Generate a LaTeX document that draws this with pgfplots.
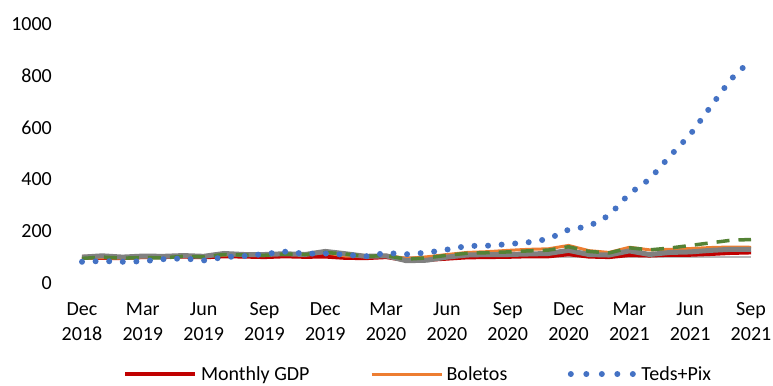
\documentclass[border=0pt]{standalone}
\usepackage{fontspec}
\setmainfont{Carlito}
\usepackage{pgfplots}
\pgfplotsset{compat=1.18}
\definecolor{gdpred}{RGB}{192,0,0}
\definecolor{bolorange}{RGB}{237,125,49}
\definecolor{tedblue}{RGB}{68,114,196}
\definecolor{grayser}{RGB}{128,128,128}
\definecolor{greenser}{RGB}{84,130,53}
\definecolor{basegray}{RGB}{185,185,185}
\pgfplotsset{dotlegend/.style={legend image code/.code={\path[draw=none] (0bp,0bp) -- (70bp,0bp);\draw[##1, dash pattern=on 0bp off 15.5bp] (3bp,0bp) -- (66bp,0bp);}}}
\begin{document}
\begin{tikzpicture}[x=1bp,y=1bp]
\begin{axis}[
  at={(82bp,-283bp)}, anchor=south west,
  scale only axis, width=669bp, height=259bp,
  xmin=0, xmax=33, ymin=0, ymax=1000,
  axis line style={draw=none}, major tick length=0pt,
  clip=false,
  xtick={0,3,...,33},
  xticklabels={{Dec\\2018},{Mar\\2019},{Jun\\2019},{Sep\\2019},{Dec\\2019},{Mar\\2020},{Jun\\2020},{Sep\\2020},{Dec\\2020},{Mar\\2021},{Jun\\2021},{Sep\\2021}},
  xticklabel style={align=center, anchor=north, inner sep=0pt, font=\fontsize{20bp}{25bp}\selectfont},
  xticklabel shift=19bp,
  ytick={0,200,...,1000},
  yticklabel style={anchor=east, inner sep=0pt, font=\fontsize{20bp}{24bp}\selectfont},
  yticklabel shift=30bp,
  /pgf/number format/assume math mode=true,
  /pgf/number format/1000 sep={},
  legend columns=-1,
  legend style={at={(0.0613,-0.3514)}, anchor=west, draw=none, fill=none,
    inner sep=0pt, outer sep=0pt, font=\fontsize{20bp}{24bp}\selectfont,
    nodes={inner sep=3.5bp},
    /tikz/every even column/.append style={column sep=57bp}},
  legend image code/.code={\draw[#1] (0bp,0bp) -- (70bp,0bp);},
]
\addplot[forget plot, basegray, line width=1.5bp] coordinates {(0,100) (33,100)};
\addplot[gdpred, line width=4.5bp, line join=round] coordinates {
(0,100) (1,98) (2,97) (3,101) (4,101) (5,103) (6,100) (7,104) (8,103) (9,101) (10,104) (11,102) (12,103) (13,98) (14,97) (15,101) (16,89) (17,90) (18,95) (19,100) (20,101) (21,102) (22,104) (23,104) (24,112) (25,103) (26,101) (27,109) (28,107) (29,110) (30,110) (31,113) (32,117) (33,119)};
\addlegendentry{Monthly GDP}
\addplot[bolorange, line width=3bp, line join=round] coordinates {
(0,98) (1,97) (2,96) (3,100) (4,100) (5,104) (6,102) (7,108) (8,109) (9,108) (10,112) (11,111) (12,117) (13,104) (14,103) (15,107) (16,95) (17,101) (18,110) (19,118) (20,121) (21,126) (22,130) (23,132) (24,145) (25,125) (26,118) (27,138) (28,128) (29,130) (30,133) (31,137) (32,139) (33,138)};
\addlegendentry{Boletos}
\addplot[forget plot, grayser, line width=5bp, line join=round] coordinates {
(0,100) (1,105) (2,100) (3,104) (4,103) (5,106) (6,103) (7,114) (8,110) (9,110) (10,113) (11,110) (12,122) (13,113) (14,103) (15,105) (16,86) (17,88) (18,100) (19,108) (20,110) (21,110) (22,112) (23,114) (24,126) (25,110) (26,108) (27,124) (28,110) (29,118) (30,120) (31,126) (32,130) (33,130)};
\addplot[forget plot, greenser, line width=3.5bp, dash pattern=on 13bp off 9bp, line join=round] coordinates {
(0,95) (1,100) (2,96) (3,98) (4,97) (5,103) (6,101) (7,110) (8,108) (9,107) (10,112) (11,110) (12,118) (13,112) (14,103) (15,106) (16,92) (17,97) (18,107) (19,115) (20,117) (21,120) (22,124) (23,127) (24,140) (25,122) (26,116) (27,136) (28,128) (29,135) (30,145) (31,155) (32,165) (33,168)};
\addplot[tedblue, line width=6bp, line cap=round, dash pattern=on 0bp off 13.6bp, line join=round, dotlegend] coordinates {
(0,82) (1,85) (2,82) (3,84) (4,92) (5,95) (6,87) (7,100) (8,104) (9,112) (10,121) (11,113) (12,114) (13,109) (14,103) (15,116) (16,111) (17,117) (18,129) (19,143) (20,144) (21,150) (22,157) (23,170) (24,206) (25,219) (26,261) (27,345) (28,401) (29,490) (30,573) (31,680) (32,786) (33,861)};
\addlegendentry{Teds+Pix}
\end{axis}
\pgfresetboundingbox
\path[use as bounding box] (0,0) rectangle (773,-385);
\end{tikzpicture}
\end{document}
